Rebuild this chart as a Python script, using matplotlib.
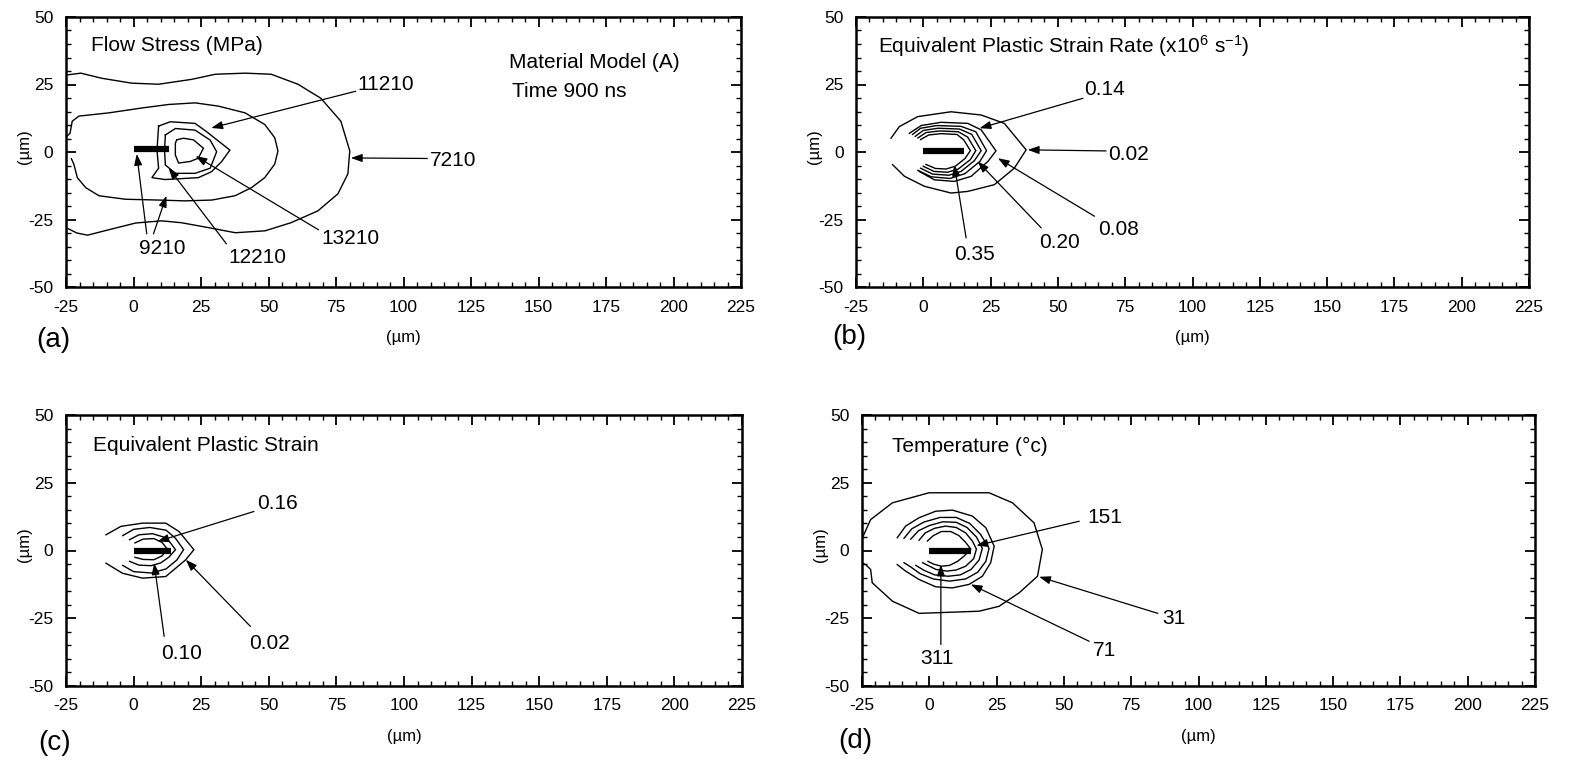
import matplotlib
matplotlib.use("Agg")
import matplotlib.pyplot as plt
from matplotlib.ticker import MultipleLocator

plt.rcParams['font.family'] = ['Liberation Sans', 'DejaVu Sans']
plt.rcParams['mathtext.fontset'] = 'custom'
plt.rcParams['mathtext.rm'] = 'Liberation Sans'
plt.rcParams['mathtext.it'] = 'Liberation Sans'

# ---------------- axes / ticks ----------------
x_limits = (-25, 225)
y_limits = (-50, 50)
x_ticks = [-25, 0, 25, 50, 75, 100, 125, 150, 175, 200, 225]
y_ticks = [-50, -25, 0, 25, 50]
axis_label = "(\u00b5m)"

# ---------------- panel (a): flow stress ----------------
a_title = "Flow Stress (MPa)"
a_c7210_x = [-25, -19.5, -11.7, -0.7, 9.3, 21.5, 30.3, 41.4, 51.0, 60.9, 69.4, 76.8, 80.1, 79.4,
             75.7, 68.3, 58.3, 48.7, 37.7, 27.7, 17.8, 10.4, 0.8, -8.0, -17.0, -21.0, -25]
a_c7210_y = [28.5, 29.2, 27.3, 25.5, 25.1, 26.9, 28.8, 29.2, 28.8, 25.1, 19.9, 11.4, 0.4, -8.1,
             -15.5, -21.8, -26.2, -29.2, -29.9, -28.0, -26.2, -25.5, -26.3, -28.5, -30.8, -30.0, -28.0]
a_c9210_x = [-25, -23.5, -22.7, -20.2, -9.1, 3.1, 13.0, 22.8, 31.4, 41.3, 48.6, 52.3, 53.5, 52.3,
             48.6, 43.7, 37.6, 29.0, 19.1, 9.3, -3.0, -12.8, -17.7, -20.8, -22.1, -23.0]
a_c9210_y = [5.5, 7.0, 11.4, 13.3, 14.5, 16.3, 17.6, 18.2, 17.0, 14.5, 10.2, 5.3, 0.4, -4.5,
             -9.5, -13.2, -16.2, -17.8, -18.1, -17.8, -17.5, -16.2, -13.2, -9.5, -4.5, -2.5]
a_c11210_x = [9.3, 13.6, 22.8, 27.1, 35.7, 32.6, 28.9, 24.0, 15.4, 11.7, 6.8, 9.3, 8.7, 9.3]
a_c11210_y = [9.6, 11.2, 10.6, 7.5, 0.7, -3.6, -7.3, -9.5, -10.0, -10.2, -9.5, -6.0, 0.7, 9.6]
a_c12210_x = [11.8, 15.5, 22.8, 28.4, 30.8, 28.4, 22.8, 15.5, 11.8, 11.5, 11.8]
a_c12210_y = [6.3, 8.7, 8.1, 4.4, 0.1, -6.0, -7.9, -7.9, -4.8, 0.7, 6.3]
a_c13210_x = [16.0, 18.5, 22.2, 25.9, 24.0, 21.0, 16.7, 15.5, 15.5, 16.0]
a_c13210_y = [4.5, 5.1, 4.5, 1.4, -2.3, -3.5, -4.1, -1.1, 3.2, 4.5]
a_crack_x = [0, 13]
a_crack_y = [1.0, 1.0]

# ---------------- panel (b): equivalent plastic strain rate ----------------
b_title = r"Equivalent Plastic Strain Rate (x10$^{\mathrm{6}}$ s$^{\mathrm{-1}}$)"
b_c002_x = [-12.0, -8.9, -2.1, 10.3, 21.5, 30.1, 38.2, 33.8, 26.4, 16.5, 10.3, 0.4, -7.0, -11.4]
b_c002_y = [5.1, 9.4, 13.1, 14.9, 13.7, 10.6, 0.8, -6.0, -12.1, -14.6, -15.2, -12.7, -9.0, -4.7]
b_c008_x = [-5.2, -0.8, 6.6, 16.5, 21.5, 27.0, 24.0, 17.8, 11.5, 4.1, -1.5]
b_c008_y = [6.9, 9.8, 11.0, 10.6, 8.2, 0.4, -3.5, -9.0, -10.9, -10.3, -7.2]
b_c014_x = [-4, -1, 5, 14, 19.5, 23.5, 21, 15.5, 10, 3, -2]
b_c014_y = [6.5, 8.8, 9.8, 9.5, 7.5, 0.5, -3.5, -8, -9.8, -9.2, -6.8]
b_c020_x = [-3, 0, 5.5, 13.5, 18, 21.5, 19, 14, 9.5, 3.5, -1]
b_c020_y = [5.8, 8.0, 8.8, 8.5, 6.5, 0.5, -3.2, -7.2, -8.6, -8.2, -6.0]
b_c027_x = [-2, 1, 6, 13, 16.5, 19.5, 17.5, 13, 9, 4, 0]
b_c027_y = [5.2, 7.2, 7.8, 7.5, 5.5, 0.5, -2.8, -6.3, -7.5, -7.2, -5.3]
b_c035_x = [-1, 2, 6.5, 12.5, 15, 17.5, 15.5, 12, 8.5, 4.5, 1]
b_c035_y = [4.6, 6.3, 6.8, 6.5, 4.5, 0.5, -2.4, -5.2, -6.3, -6.1, -4.6]
b_crack_x = [0, 15]
b_crack_y = [0.5, 0.5]

# ---------------- panel (c): equivalent plastic strain ----------------
c_title = "Equivalent Plastic Strain"
c_c002_x = [-10.2, -4.7, 3.3, 11.9, 16.8, 22.3, 19.3, 15.6, 11.9, 3.3, -4.1, -10.2]
c_c002_y = [5.8, 8.9, 10.1, 10.1, 7.0, 0.3, -3.4, -6.5, -9.6, -10.2, -8.4, -4.7]
c_c006_x = [-4, 0, 6, 12, 15.5, 18.5, 16, 12, 6.5, 0, -4]
c_c006_y = [5.5, 7.8, 8.5, 7.5, 4.5, 0.3, -3.5, -6.8, -8.3, -7.8, -5.5]
c_c010_x = [-1.5, 2, 7, 11, 13.5, 15.5, 13, 10, 6.5, 2, -1.5]
c_c010_y = [4.0, 5.8, 6.2, 5.0, 3.0, 0.3, -2.5, -4.6, -5.6, -5.4, -4.0]
c_c016_x = [0.5, 3.5, 7.5, 10.5, 12.5, 10.5, 7.5, 3.5, 0.5]
c_c016_y = [2.8, 4.2, 4.4, 3.0, 0.5, -2.0, -3.4, -3.3, -2.5]
c_crack_x = [0, 14]
c_crack_y = [0.0, 0.0]

# ---------------- panel (d): temperature ----------------
d_title = "Temperature (\u00b0c)"
d_c31_x = [-25.5, -24.3, -21.8, -13.7, -0.1, 22.2, 30.9, 38.9, 42.0, 40.2, 33.4, 25.9, 18.5,
           -3.8, -13.7, -21.2, -21.8, -23.6, -25.5]
d_c31_y = [3.0, 5.9, 11.4, 17.6, 21.3, 21.3, 17.6, 10.2, 0.4, -9.5, -15.6, -20.6, -22.4,
           -23.2, -18.7, -11.9, -7.0, -5.2, -4.5]
d_c71_x = [-11.9, -8.8, -3.8, 2.4, 8.6, 16.0, 21.0, 24.1, 22.8, 19.7, 14.8, 8.6, 2.4, -3.8, -8.8, -11.9]
d_c71_y = [4.7, 9.0, 12.1, 14.5, 14.9, 12.7, 8.4, 1.6, -4.5, -9.5, -12.5, -13.8, -13.4, -10.7, -7.6, -5.2]
d_c111_x = [-9.4, -6.5, -2, 4, 10, 15, 19, 22.2, 21, 18, 13.5, 7.5, 1.5, -3.5, -7, -9.4]
d_c111_y = [4.5, 8, 10.5, 12.2, 12.2, 10, 6, 0.8, -4, -8, -10.5, -11.3, -10.5, -8.5, -6, -4.5]
d_c151_x = [-6.9, -4, 0, 5, 10, 14, 17.5, 19.7, 18.5, 15.5, 11.5, 7, 2, -2, -5]
d_c151_y = [4.2, 7.3, 9.2, 10.6, 10.4, 8.5, 5, 0.8, -3.5, -7, -9, -9.5, -9, -7.3, -5.5]
d_c231_x = [-3.8, -1.5, 2, 6, 10, 13.5, 16, 17.5, 16.5, 13.5, 10, 6.5, 2.5, -0.5, -2.5]
d_c231_y = [3.8, 6.5, 8.2, 9, 8.5, 6.5, 3.5, 0.5, -3, -5.8, -7.2, -7.6, -7, -5.5, -4.5]
d_c311_x = [-0.7, 1.5, 4.5, 8, 11, 13.5, 15.4, 13, 10.5, 7.5, 4.5, 1.5, -0.5]
d_c311_y = [3.5, 5.5, 7, 7, 5.5, 3, 0.5, -2, -4, -5.5, -5.8, -5, -4]
d_crack_x = [0, 15.4]
d_crack_y = [0.0, 0.0]

# ---------------- figure ----------------
fig = plt.figure(figsize=(15.69, 7.64), dpi=100)
W, H = 1569.0, 764.0
boxes = {
    'a': (66, 17, 741, 287),
    'b': (856, 17, 1529, 287),
    'c': (66, 415, 742, 686),
    'd': (862, 415, 1535, 686),
}

TICK_FS = 12.5
ANN_FS = 15
TITLE_FS = 15
ARROW = dict(arrowstyle='-|>,head_length=0.45,head_width=0.16', mutation_scale=15,
             lw=0.9, color='k', shrinkA=0, shrinkB=0)


def make_axes(key):
    l, t, r, b = boxes[key]
    ax = fig.add_axes([l / W, 1 - b / H, (r - l) / W, (b - t) / H])
    ax.set_xlim(*x_limits)
    ax.set_ylim(*y_limits)
    ax.set_xticks(x_ticks)
    ax.set_yticks(y_ticks)
    ax.set_xticklabels([str(v) for v in x_ticks])
    ax.set_yticklabels([str(v) for v in y_ticks])
    ax.xaxis.set_minor_locator(MultipleLocator(5))
    ax.yaxis.set_minor_locator(MultipleLocator(5))
    ax.tick_params(which='both', direction='in', top=True, right=True, colors='k')
    ax.tick_params(which='major', length=7, width=1.3, labelsize=TICK_FS, pad=9)
    ax.tick_params(which='minor', length=3.5, width=1.0)
    for s in ax.spines.values():
        s.set_linewidth(1.8)
    ax.set_xlabel(axis_label, fontsize=12, labelpad=11)
    ax.set_ylabel(axis_label, fontsize=12)
    ax.yaxis.set_label_coords(-0.05, 0.52)
    return ax


def draw_lines(ax, lines, crack_x, crack_y):
    for xs, ys in lines:
        ax.plot(xs, ys, color='k', lw=1.0, solid_joinstyle='miter')
    ax.plot(crack_x, crack_y, color='k', lw=4.5, solid_capstyle='butt')


def label(ax, text, tx, ty, arrows):
    ax.text(tx, ty, text, fontsize=ANN_FS, ha='left', va='center')
    for (sx, sy), (ex, ey) in arrows:
        ax.annotate('', xy=(ex, ey), xytext=(sx, sy), arrowprops=ARROW)


# (a)
ax = make_axes('a')
draw_lines(ax, [(a_c7210_x, a_c7210_y), (a_c9210_x, a_c9210_y), (a_c11210_x, a_c11210_y),
                (a_c12210_x, a_c12210_y), (a_c13210_x, a_c13210_y)], a_crack_x, a_crack_y)
ax.text(-15.8, 39.4, a_title, fontsize=TITLE_FS, ha='left', va='center')
ax.text(139.1, 33.0, "Material Model (A)", fontsize=TITLE_FS, ha='left', va='center')
ax.text(140.0, 22.3, "Time 900 ns", fontsize=TITLE_FS, ha='left', va='center')
label(ax, "11210", 83, 25.1, [((82.3, 22.5), (28.8, 8.9))])
label(ax, "7210", 109.6, -3.0, [((108.8, -2.4), (80.5, -2.2))])
label(ax, "13210", 69.4, -32.1, [((68.5, -28.8), (23.0, -1.5))])
label(ax, "12210", 35.1, -39.0, [((34.4, -34.0), (13.0, -5.9))])
label(ax, "9210", 1.9, -35.8, [((4.9, -30.3), (1.2, -0.7)), ((7.4, -30.3), (12.2, -16.2))])

# (b)
ax = make_axes('b')
draw_lines(ax, [(b_c002_x, b_c002_y), (b_c008_x, b_c008_y), (b_c014_x, b_c014_y),
                (b_c020_x, b_c020_y), (b_c027_x, b_c027_y), (b_c035_x, b_c035_y)],
           b_crack_x, b_crack_y)
ax.text(-16.7, 39.4, b_title, fontsize=TITLE_FS, ha='left', va='center')
label(ax, "0.14", 59.8, 23.1, [((59.3, 19.9), (20.9, 8.8))])
label(ax, "0.02", 68.6, -1.0, [((67.9, 0.4), (38.8, 0.8))])
label(ax, "0.08", 64.9, -28.6, [((63.6, -23.8), (27.7, -2.3))])
label(ax, "0.20", 43.0, -33.6, [((43.8, -28.1), (20.2, -3.5))])
label(ax, "0.35", 11.4, -37.8, [((15.9, -31.8), (11.5, -4.7))])

# (c)
ax = make_axes('c')
draw_lines(ax, [(c_c002_x, c_c002_y), (c_c006_x, c_c006_y), (c_c010_x, c_c010_y),
                (c_c016_x, c_c016_y)], c_crack_x, c_crack_y)
ax.text(-14.9, 38.9, c_title, fontsize=TITLE_FS, ha='left', va='center')
label(ax, "0.16", 45.7, 17.5, [((44.5, 14.4), (8.8, 3.3))])
label(ax, "0.02", 42.6, -34.2, [((43.2, -28.0), (19.3, -3.4))])
label(ax, "0.10", 10.1, -37.9, [((11.3, -31.7), (7.6, -4.7))])

# (d)
ax = make_axes('d')
draw_lines(ax, [(d_c31_x, d_c31_y), (d_c71_x, d_c71_y), (d_c111_x, d_c111_y),
                (d_c151_x, d_c151_y), (d_c231_x, d_c231_y), (d_c311_x, d_c311_y)],
           d_crack_x, d_crack_y)
ax.text(-13.8, 38.3, d_title, fontsize=TITLE_FS, ha='left', va='center')
label(ax, "151", 58.8, 12.2, [((55.7, 10.8), (17.5, 1.8))])
label(ax, "31", 86.5, -25.1, [((84.9, -23.2), (40.8, -9.7))])
label(ax, "71", 60.6, -37.0, [((59.4, -33.5), (15.4, -12.5))])
label(ax, "311", -3.2, -39.9, [((4.3, -34.7), (4.3, -5.2))])

# panel letters
for txt, px, py in [("(a)", 36, 340), ("(b)", 832, 337), ("(c)", 38, 743), ("(d)", 838, 741)]:
    fig.text(px / W, 1 - py / H, txt, fontsize=20, ha='left', va='center')

fig.savefig("out.png", dpi=100)
